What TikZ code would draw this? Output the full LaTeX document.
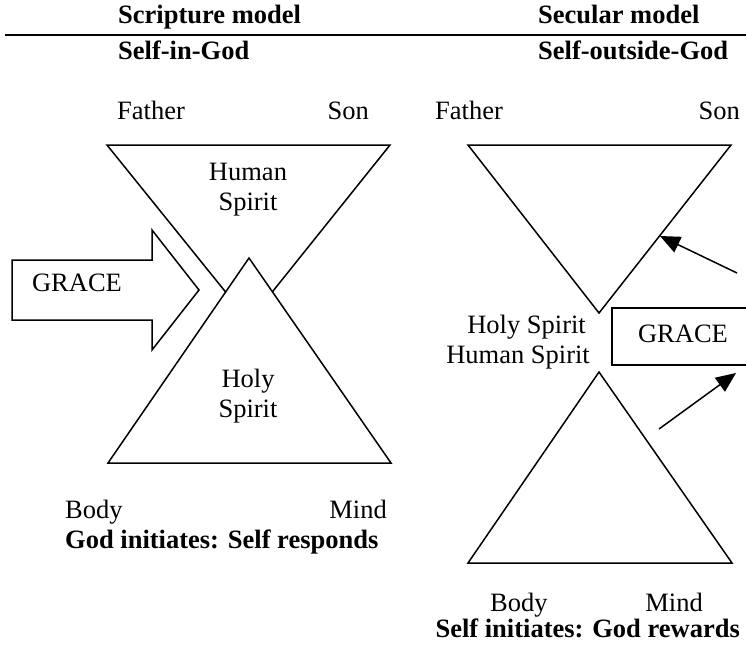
\documentclass[tikz,border=0pt]{standalone}
\usepackage{fontspec}
\setmainfont{Liberation Serif}
\usetikzlibrary{arrows.meta}
\begin{document}
\begin{tikzpicture}[x=1pt,y=-1pt,
  lbl/.style={font=\fontsize{26.5}{30}\selectfont, inner sep=0pt},
  hdr/.style={font=\fontsize{26.5}{30}\selectfont\bfseries, inner sep=0pt},
  tri/.style={draw, fill=white, line width=1.5pt, line join=miter},
  outl/.style={draw, fill=white, line width=1.5pt},
  arr/.style={draw, line width=1.5pt, -{Triangle[length=20pt,width=17pt]}}]
\useasboundingbox (0,0) rectangle (746,645);
\clip (0,0) rectangle (746,645);
% headers
\node[hdr, anchor=base west] (h1) at (118,23) {Scripture model};
\node[hdr, anchor=base west] (h2) at (118,59) {Self-in-God};
\node[hdr, anchor=base west] (h3) at (538,23) {Secular model};
\node[hdr, anchor=base west] (h4) at (538,59) {Self-outside-God};
\coordinate (ruleL) at (5,35);
\coordinate (ruleR) at (746,35);
\draw[line width=2pt] (ruleL) -- (ruleR);
% ---------- left model ----------
\node[lbl, anchor=base west] (lf) at (117,119) {Father};
\node[lbl, anchor=base east] (ls) at (369,119) {Son};
\coordinate (lu1) at (107,145);
\coordinate (lu2) at (390,145);
\coordinate (lu3) at (249,321);
\draw[tri] (lu1) -- (lu2) -- (lu3) -- cycle;
\coordinate (ll1) at (249,258);
\coordinate (ll2) at (391,463);
\coordinate (ll3) at (108,463);
\draw[tri] (ll1) -- (ll2) -- (ll3) -- cycle;
\node[lbl, anchor=base] (lh1) at (248,180) {Human};
\node[lbl, anchor=base] (lh2) at (248,210) {Spirit};
\node[lbl, anchor=base] (lo1) at (248,387) {Holy};
\node[lbl, anchor=base] (lo2) at (248,417) {Spirit};
% grace arrow
\draw[outl] (12,260) -- (152,260) -- (152,230) -- (199,290) -- (152,350) -- (152,320) -- (12,320) -- cycle;
\node[lbl, anchor=base] (lg) at (77,291) {GRACE};
\node[lbl, anchor=base west] (lb) at (65,518) {Body};
\node[lbl, anchor=base east] (lm) at (387,518) {Mind};
\node[hdr, anchor=base west] (lt) at (65,548) {God initiates: Self responds};
% ---------- right model ----------
\node[lbl, anchor=base west] (rf) at (435,119) {Father};
\node[lbl, anchor=base east] (rs) at (740,119) {Son};
\coordinate (ru1) at (468,145);
\coordinate (ru2) at (731,145);
\coordinate (ru3) at (599,313);
\draw[tri] (ru1) -- (ru2) -- (ru3) -- cycle;
\coordinate (rl1) at (599,372);
\coordinate (rl2) at (732,563);
\coordinate (rl3) at (468,563);
\draw[tri] (rl1) -- (rl2) -- (rl3) -- cycle;
\node[lbl, anchor=base east] (rh1) at (586,333) {Holy Spirit};
\node[lbl, anchor=base east] (rh2) at (590,363) {Human Spirit};
\node[outl, minimum width=150pt, minimum height=57pt, anchor=north west] (rg) at (611,307) {};
\node[lbl, anchor=base] (rgt) at (683,342) {GRACE};
\coordinate (a1s) at (737,273);
\coordinate (a1e) at (660,236);
\coordinate (a2s) at (659,429);
\coordinate (a2e) at (736,373);
\draw[arr] (a1s) -- (a1e);
\draw[arr] (a2s) -- (a2e);
\node[lbl, anchor=base west] (rb) at (490,611) {Body};
\node[lbl, anchor=base east] (rm) at (703,611) {Mind};
\node[hdr, anchor=base east] (rt) at (740,637) {Self initiates: God rewards};
\end{tikzpicture}
\end{document}
